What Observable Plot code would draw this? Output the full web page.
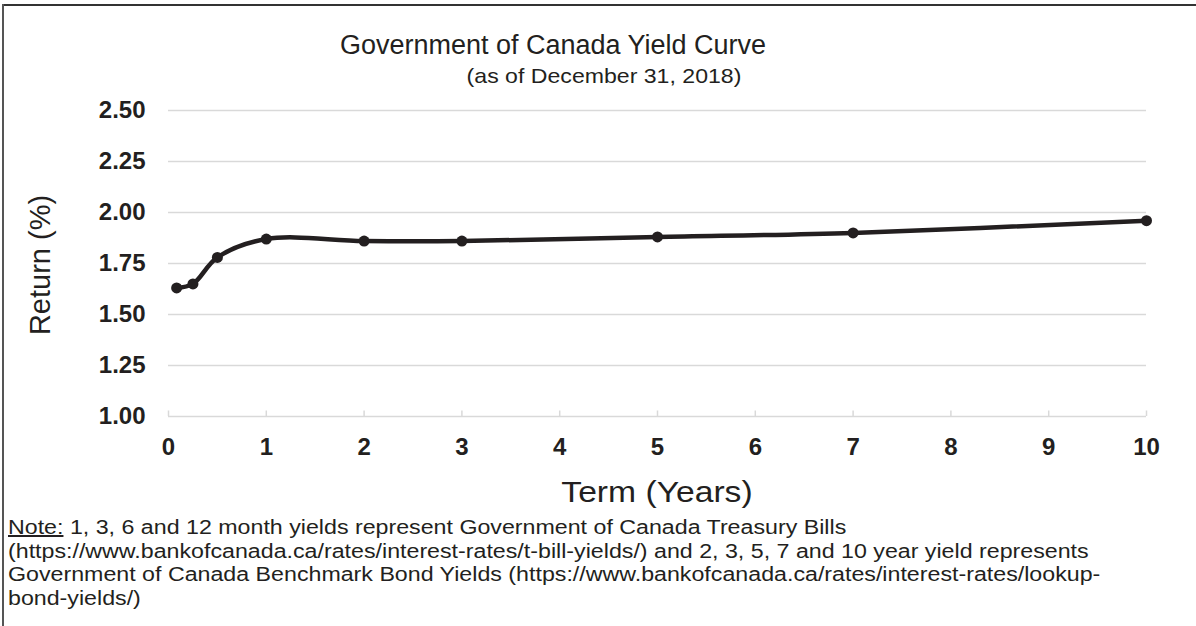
<!DOCTYPE html>
<html>
<head>
<meta charset="utf-8">
<script src="https://cdn.jsdelivr.net/npm/d3@7"></script>
<script src="https://cdn.jsdelivr.net/npm/@observablehq/plot@0.6"></script>
<style>
  html, body { margin: 0; padding: 0; background: #fff; }
  #wrap { position: relative; width: 1196px; height: 626px; overflow: hidden; font-family: "Liberation Sans", Arial, sans-serif; color: #231f20; }
  #topline { position: absolute; left: 2px; top: 4px; width: 1194px; height: 2px; background: #333; }
  #leftline { position: absolute; left: 2px; top: 4px; width: 2px; height: 622px; background: #555; }
  #chart { position: absolute; left: 0; top: 0; }
  .t { position: absolute; white-space: nowrap; }
  #title { top: 29px; left: 553px; transform: translateX(-50%); font-size: 27px; line-height: 32px; }
  #subtitle { top: 64px; left: 604px; transform: translateX(-50%); font-size: 21px; line-height: 24px; }
  #subtitle span { display: inline-block; transform: scaleX(1.1); }
  #ylab { left: 40px; top: 265px; transform: translate(-50%, -50%) rotate(-90deg); font-size: 29px; }
  #xlab { left: 657px; top: 492px; transform: translate(-50%, -50%) scaleX(1.16); font-size: 29px; }
  #note { left: 8px; top: 516px; font-size: 20px; line-height: 23.5px; transform-origin: 0 0; transform: scaleX(1.16); }
  #note u { text-decoration: underline; }
</style>
</head>
<body>
<div id="wrap">
  <div id="chart"></div>
  <div id="topline"></div>
  <div id="leftline"></div>
  <div class="t" id="title">Government of Canada Yield Curve</div>
  <div class="t" id="subtitle"><span>(as of December 31, 2018)</span></div>
  <div class="t" id="ylab">Return (%)</div>
  <div class="t" id="xlab">Term (Years)</div>
  <div class="t" id="note"><u>Note:</u> 1, 3, 6 and 12 month yields represent Government of Canada Treasury Bills<br>(https://www.bankofcanada.ca/rates/interest-rates/t-bill-yields/) and 2, 3, 5, 7 and 10 year yield represents<br>Government of Canada Benchmark Bond Yields (https://www.bankofcanada.ca/rates/interest-rates/lookup-<br>bond-yields/)</div>
</div>
<script>
// Data
const terms = [1/12, 3/12, 6/12, 1, 2, 3, 5, 7, 10];
const yields = [1.63, 1.65, 1.78, 1.87, 1.86, 1.86, 1.88, 1.90, 1.96];
const xTicks = [0, 1, 2, 3, 4, 5, 6, 7, 8, 9, 10];
const yTicks = [1.00, 1.25, 1.50, 1.75, 2.00, 2.25, 2.50];

const data = terms.map((t, i) => ({term: t, y: yields[i]}));
const ink = "#231f20";

const chart = Plot.plot({
  width: 1196,
  height: 470,
  marginLeft: 168,
  marginRight: 50,
  marginTop: 110,
  marginBottom: 54,
  style: {fontFamily: "'Liberation Sans', Arial, sans-serif", color: ink, background: "transparent"},
  x: {domain: [0, 10]},
  y: {domain: [1, 2.5]},
  marks: [
    Plot.gridY(yTicks, {stroke: "#d9d9d9", strokeOpacity: 1, strokeWidth: 1.5}),
    Plot.ruleX(xTicks, {x: d => d, y1: 1, y2: 1.027, stroke: "#d9d9d9", strokeWidth: 1.5}),
    Plot.axisY(yTicks, {tickSize: 0, tickPadding: 23, tickFormat: d3.format(".2f"), fontSize: 24, fontWeight: "bold", label: null}),
    Plot.axisX(xTicks, {tickSize: 0, tickPadding: 21, tickFormat: d3.format("d"), fontSize: 24, fontWeight: "bold", label: null}),
    Plot.line(data, {x: "term", y: "y", curve: "catmull-rom", stroke: ink, strokeWidth: 4.5}),
    Plot.dot(data, {x: "term", y: "y", r: 5.5, fill: ink, stroke: null})
  ]
});
document.getElementById("chart").appendChild(chart);
</script>
</body>
</html>
